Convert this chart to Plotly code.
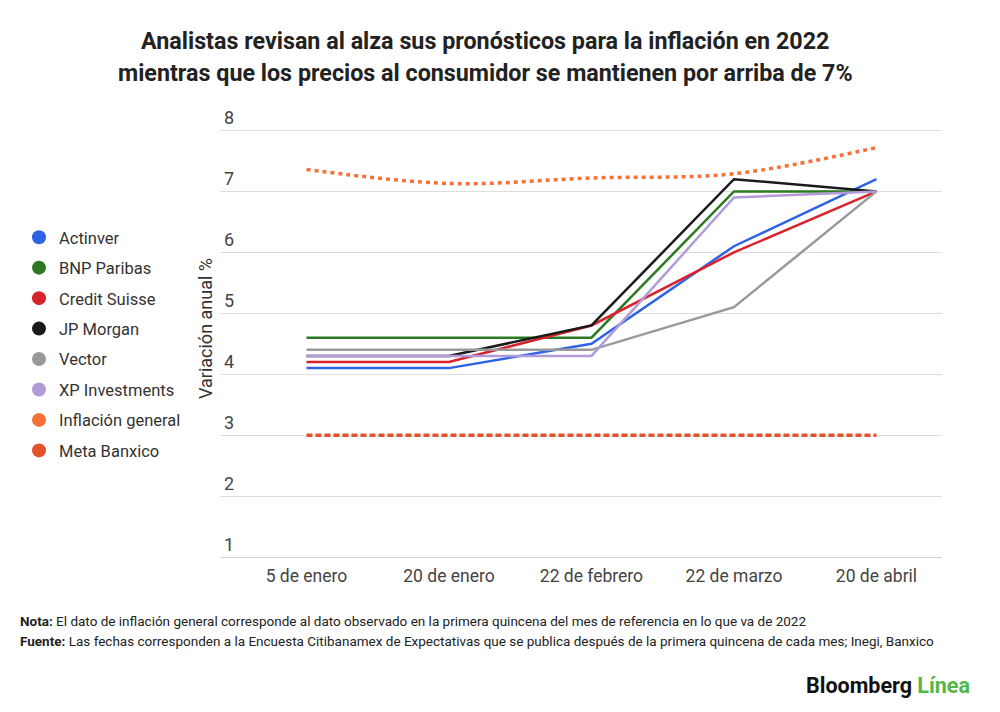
import plotly.graph_objects as go

fechas = ["5 de enero", "20 de enero", "22 de febrero", "22 de marzo", "20 de abril"]

actinver = [4.1, 4.1, 4.5, 6.1, 7.2]
bnp_paribas = [4.6, 4.6, 4.6, 7.0, 7.0]
credit_suisse = [4.2, 4.2, 4.8, 6.0, 7.0]
jp_morgan = [4.3, 4.3, 4.8, 7.2, 7.0]
vector = [4.4, 4.4, 4.4, 5.1, 7.0]
xp_investments = [4.3, 4.3, 4.3, 6.9, 7.0]
inflacion_general = [7.36, 7.13, 7.22, 7.29, 7.72]
meta_banxico = [3, 3, 3, 3, 3]

series = [
    ("Actinver", actinver, "#2f63e6", "solid", 2.5, "linear"),
    ("BNP Paribas", bnp_paribas, "#2b7a22", "solid", 2.5, "linear"),
    ("Credit Suisse", credit_suisse, "#d8232a", "solid", 2.5, "linear"),
    ("JP Morgan", jp_morgan, "#1a1a1a", "solid", 2.5, "linear"),
    ("Vector", vector, "#999999", "solid", 2.5, "linear"),
    ("XP Investments", xp_investments, "#b19cd9", "solid", 2.5, "linear"),
    ("Inflación general", inflacion_general, "#f4723a", "4px,4px", 3.5, "spline"),
    ("Meta Banxico", meta_banxico, "#e2532c", "6px,3px", 3.5, "linear"),
]

# the page body adds an 8px margin, so positions are given in page pixels minus 8
OFF = 8
L, R, T, B = 221 - OFF, 942 - OFF, 99.5 - OFF, 557 - OFF


def px(x, y):
    return (x - OFF - L) / (R - L), (B - (y - OFF)) / (B - T)


fig = go.Figure()
for name, vals, color, dash, width, shape in series:
    fig.add_trace(go.Scatter(
        x=fechas, y=vals, mode="lines", name=name, showlegend=False,
        line=dict(color=color, width=width, dash=dash, shape=shape),
        hoverinfo="x+y+name"))
# circles for the legend
for name, vals, color, dash, width, shape in series:
    fig.add_trace(go.Scatter(
        x=[None], y=[None], mode="markers", name=name, legendgroup=name,
        marker=dict(color=color, size=14)))


def note(text, x, y, size, color="#222", anchor="center"):
    xp, yp = px(x, y)
    return dict(text=text, xref="paper", yref="paper", x=xp, y=yp, xanchor=anchor,
                yanchor="middle", showarrow=False, font=dict(size=size, color=color))


fig.update_layout(
    width=1000, height=712,
    paper_bgcolor="white", plot_bgcolor="white",
    font=dict(family="Roboto", color="#333"),
    margin=dict(l=L, r=1000 - R, t=T, b=712 - B, autoexpand=False),
    legend=dict(xref="container", yref="container", x=0.011, y=1 - 212 / 712,
                xanchor="left", yanchor="top", font=dict(size=16.5, color="#333"),
                tracegroupgap=6, itemsizing="trace"),
    annotations=[
        note("<b>Analistas revisan al alza sus pronósticos para la inflación en 2022</b>", 485, 40, 23.3),
        note("<b>mientras que los precios al consumidor se mantienen por arriba de 7%</b>", 485, 72, 23.3),
        note("<b>Nota:</b> El dato de inflación general corresponde al dato observado en la primera quincena del mes de referencia en lo que va de 2022",
             18, 621, 13.5, anchor="left"),
        note("<b>Fuente:</b> Las fechas corresponden a la Encuesta Citibanamex de Expectativas que se publica después de la primera quincena de cada mes; Inegi, Banxico",
             18, 641, 13.5, anchor="left"),
        note("<b>Bloomberg</b> <b><span style='color:#52b848'>Línea</span></b>", 972, 686, 21.5,
             color="#111", anchor="right"),
    ],
)

fig.update_xaxes(range=[-0.6, 4.46], showgrid=False, showline=True, linecolor="#d4d4d4",
                 linewidth=1, ticks="", ticklabelstandoff=3,
                 automargin=False, tickfont=dict(size=17.5, color="#444"), fixedrange=True)
fig.update_yaxes(range=[1, 8.5], tickvals=[1, 2, 3, 4, 5, 6, 7, 8], showgrid=True,
                 gridcolor="#dddddd", gridwidth=1, automargin=False,
                 zeroline=False, showline=False, ticks="", ticklabelposition="inside top",
                 tickfont=dict(size=18, color="#444"),
                 title=dict(text="Variación anual %", font=dict(size=18, color="#333"), standoff=6))

fig.write_html("out.html")
